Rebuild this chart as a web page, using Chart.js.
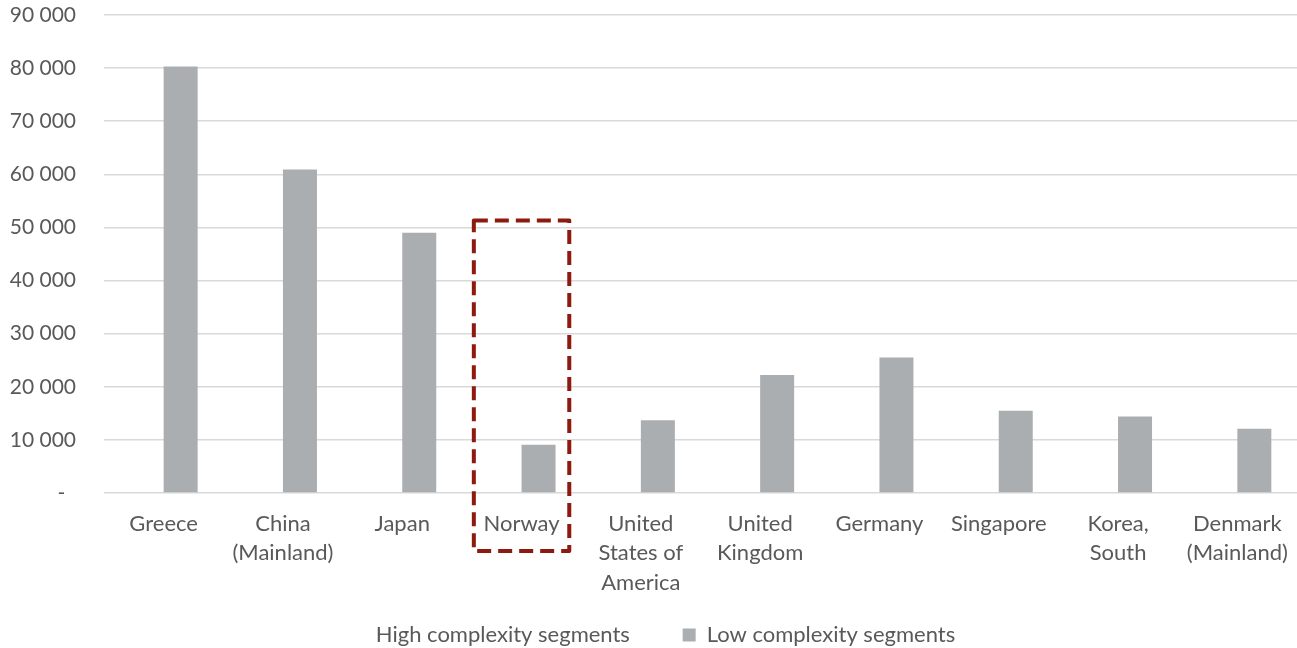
<!DOCTYPE html>
<html>
<head>
<meta charset="utf-8">
<script src="https://cdn.jsdelivr.net/npm/chart.js@4/dist/chart.umd.min.js"></script>
<style>
  html, body { margin: 0; padding: 0; background: #ffffff; }
  #wrap { width: 1297px; height: 648px; position: relative; }
</style>
</head>
<body>
<div id="wrap"><canvas id="chart"></canvas></div>
<script>
// Countries (multi-line labels) and segment volumes
const categories = [
  ["Greece"],
  ["China", "(Mainland)"],
  ["Japan"],
  ["Norway"],
  ["United", "States of", "America"],
  ["United", "Kingdom"],
  ["Germany"],
  ["Singapore"],
  ["Korea,", "South"],
  ["Denmark", "(Mainland)"]
];
const highComplexity = [0, 0, 0, 0, 0, 0, 0, 0, 0, 0];
const lowComplexity = [80300, 60900, 49000, 9100, 13700, 22200, 25500, 15500, 14400, 12100];
const seriesNames = ["High complexity segments", "Low complexity segments"];
const yTickValues = [0, 10000, 20000, 30000, 40000, 50000, 60000, 70000, 80000, 90000];

// Highlighted category (dashed frame) and the value its top edge reaches
const highlightIndex = 3;
const highlightTopValue = 51300;

const textColor = '#595959';
const gridColor = '#d9d9d9';
const fontFamily = 'Lato, "Noto Sans", sans-serif';

// Accounting-style numbers: space as thousands separator, dash for zero
function formatThousands(v) {
  if (v === 0) return '-\u00a0\u00a0';
  return String(v).replace(/\B(?=(\d{3})+(?!\d))/g, ' ');
}

const highlightPlugin = {
  id: 'highlightFrame',
  afterDraw(chart) {
    const { ctx, chartArea, scales: { x, y } } = chart;
    const slot = x.width / categories.length;
    const cx = x.getPixelForValue(highlightIndex);
    const half = slot * 0.4;
    const top = y.getPixelForValue(highlightTopValue);
    const bottom = chartArea.bottom + 58;
    ctx.save();
    ctx.strokeStyle = '#8c1a0f';
    ctx.lineWidth = 4;
    ctx.setLineDash([14, 7]);
    ctx.lineJoin = 'round';
    ctx.strokeRect(cx - half, top, half * 2, bottom - top);
    ctx.restore();
  }
};

new Chart(document.getElementById('chart'), {
  type: 'bar',
  data: {
    labels: categories,
    datasets: [
      {
        label: seriesNames[0],
        data: highComplexity,
        backgroundColor: 'rgba(0,0,0,0)',
        borderWidth: 0
      },
      {
        label: seriesNames[1],
        data: lowComplexity,
        backgroundColor: '#abaeb1',
        borderWidth: 0
      }
    ]
  },
  options: {
    responsive: true,
    maintainAspectRatio: false,
    animation: false,
    categoryPercentage: 0.57,
    barPercentage: 1.0,
    layout: { padding: { left: 10, right: 0, top: 15, bottom: -8 } },
    plugins: {
      legend: {
        position: 'bottom',
        labels: {
          color: textColor,
          font: { family: fontFamily, size: 22 },
          boxWidth: 13,
          boxHeight: 13,
          padding: 19,
          generateLabels(chart) {
            const items = Chart.defaults.plugins.legend.labels.generateLabels(chart);
            items.forEach((item, i) => {
              if (i < items.length - 1) item.text += '\u00a0'.repeat(6);
            });
            return items;
          }
        }
      },
      tooltip: { enabled: false }
    },
    scales: {
      x: {
        grid: { display: false, drawTicks: false },
        border: { display: false },
        ticks: {
          color: textColor,
          font: { family: fontFamily, size: 22, lineHeight: 1.34 },
          maxRotation: 0,
          autoSkip: false,
          padding: 16
        },
        afterFit(scale) {
          scale.height = 112;
          scale.paddingLeft = 0;
          scale.paddingRight = 0;
        }
      },
      y: {
        min: 0,
        max: 90000,
        afterBuildTicks(scale) {
          scale.ticks = yTickValues.map(v => ({ value: v }));
        },
        grid: { color: gridColor, lineWidth: 1.5, drawTicks: false },
        border: { display: false },
        ticks: {
          color: textColor,
          font: { family: fontFamily, size: 21 },
          padding: 28,
          callback: (v) => formatThousands(v)
        },
        afterFit(scale) {
          scale.width = 94;
          scale.paddingTop = 0;
          scale.paddingBottom = 0;
        }
      }
    }
  },
  plugins: [highlightPlugin]
});
</script>
</body>
</html>
